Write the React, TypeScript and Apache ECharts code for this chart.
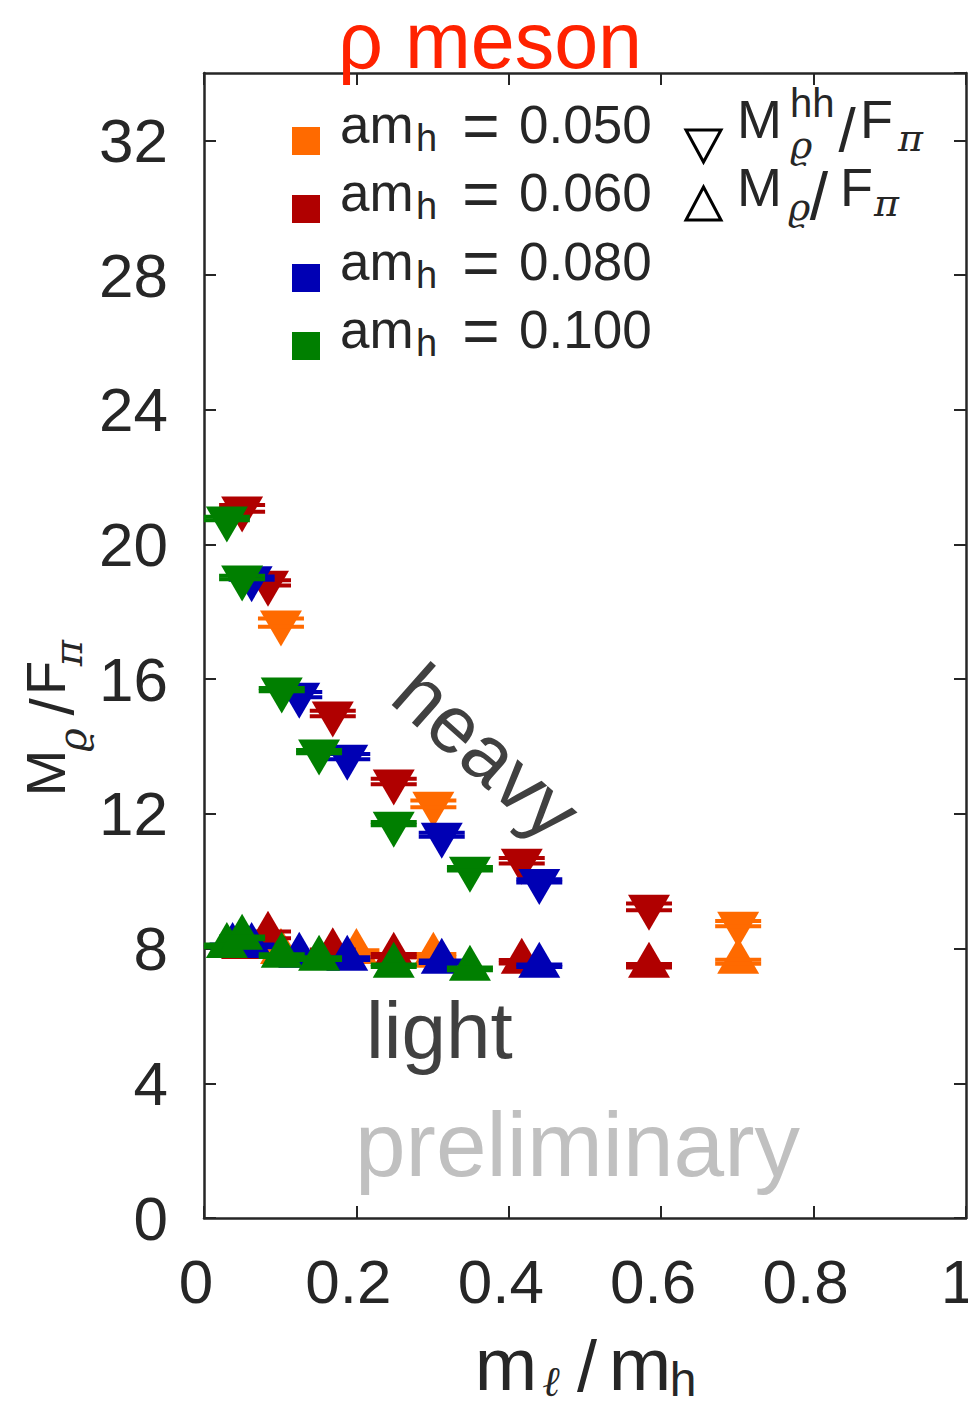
import React, { useEffect, useRef } from "react";
import * as echarts from "echarts";

// ---- data ----
const amH = ["0.050", "0.060", "0.080", "0.100"];
const colors = ["#ff6a00", "#b00000", "#0000b4", "#007f00"];

// am_h = 0.050 (orange)
const heavyX050 = [0.101, 0.301, 0.701];
const heavyY050 = [17.68, 12.3, 8.74];
const heavyE050 = [0.12, 0.1, 0.08];
const lightX050 = [0.101, 0.2, 0.301, 0.701];
const lightY050 = [7.9, 7.9, 7.79, 7.61];
const lightE050 = [0.05, 0.05, 0.05, 0.06];

// am_h = 0.060 (red)
const heavyX060 = [0.05, 0.084, 0.169, 0.249, 0.417, 0.584];
const heavyY060 = [21.07, 18.86, 14.98, 12.96, 10.61, 9.24];
const heavyE060 = [0.1, 0.08, 0.08, 0.08, 0.08, 0.1];
const lightX060 = [0.05, 0.084, 0.169, 0.249, 0.417, 0.584];
const lightY060 = [8.05, 8.41, 7.92, 7.79, 7.61, 7.49];
const lightE060 = [0.05, 0.1, 0.05, 0.05, 0.05, 0.05];

// am_h = 0.080 (blue)
const heavyX080 = [0.0625, 0.125, 0.188, 0.312, 0.44];
const heavyY080 = [19.0, 15.54, 13.7, 11.38, 10.01];
const heavyE080 = [0.05, 0.08, 0.08, 0.06, 0.05];
const lightX080 = [0.0375, 0.0625, 0.125, 0.188, 0.312, 0.44];
const lightY080 = [8.08, 8.08, 7.79, 7.7, 7.61, 7.49];
const lightE080 = [0.04, 0.04, 0.04, 0.04, 0.04, 0.04];

// am_h = 0.100 (green)
const heavyX100 = [0.03, 0.05, 0.102, 0.151, 0.249, 0.349];
const heavyY100 = [20.77, 19.02, 15.69, 13.85, 11.71, 10.37];
const heavyE100 = [0.05, 0.05, 0.05, 0.05, 0.05, 0.05];
const lightX100 = [0.03, 0.05, 0.102, 0.151, 0.249, 0.349];
const lightY100 = [8.08, 8.32, 7.79, 7.7, 7.49, 7.4];
const lightE100 = [0.04, 0.04, 0.04, 0.04, 0.04, 0.04];

const xTicks = [0, 0.2, 0.4, 0.6, 0.8, 1];
const yTicks = [0, 4, 8, 12, 16, 20, 24, 28, 32];

const seriesSets = [
  { hx: heavyX050, hy: heavyY050, he: heavyE050, lx: lightX050, ly: lightY050, le: lightE050 },
  { hx: heavyX060, hy: heavyY060, he: heavyE060, lx: lightX060, ly: lightY060, le: lightE060 },
  { hx: heavyX080, hy: heavyY080, he: heavyE080, lx: lightX080, ly: lightY080, le: lightE080 },
  { hx: heavyX100, hy: heavyY100, he: heavyE100, lx: lightX100, ly: lightY100, le: lightE100 },
];

const SANS = "'Liberation Sans', Arial, Helvetica, sans-serif";
const SERIF = "'DejaVu Serif', 'Liberation Serif', serif";
const INK = "#262626";

function T(text: string, x: number, y: number, size: number, opts: any = {}) {
  return {
    type: "text",
    x,
    y,
    rotation: opts.rotation || 0,
    z: 100,
    style: {
      text,
      fill: opts.fill || INK,
      font: `${opts.italic ? "italic " : ""}${size}px ${opts.family || SANS}`,
      align: opts.align || "left",
      verticalAlign: "middle",
      lineHeight: Math.round(size * (opts.lh || 1)),
    },
  };
}

function makeRender(color: string) {
  return (params: any, api: any) => {
    const x = api.value(0);
    const y = api.value(1);
    const e = api.value(2);
    const up = api.value(3) === 1;
    const c = api.coord([x, y]);
    const hi = api.coord([x, y + e]);
    const lo = api.coord([x, y - e]);
    const hw = 21;
    const pts = up
      ? [
          [c[0] - hw, c[1] + 12],
          [c[0] + hw, c[1] + 12],
          [c[0], c[1] - 24],
        ]
      : [
          [c[0] - hw, c[1] - 12],
          [c[0] + hw, c[1] - 12],
          [c[0], c[1] + 24],
        ];
    return {
      type: "group",
      children: [
        { type: "line", shape: { x1: c[0], y1: hi[1], x2: c[0], y2: lo[1] }, style: { stroke: color, lineWidth: 2 } },
        { type: "polygon", shape: { points: pts }, style: { fill: color } },
        { type: "rect", shape: { x: c[0] - 23, y: hi[1] - 2, width: 46, height: 4 }, style: { fill: color } },
        { type: "rect", shape: { x: c[0] - 23, y: lo[1] - 2, width: 46, height: 4 }, style: { fill: color } },
      ],
    };
  };
}

export default function App() {
  const ref = useRef<HTMLDivElement>(null);
  useEffect(() => {
    if (!ref.current) return;
    const chart = echarts.init(ref.current, null, { renderer: "svg" });

    const series: any[] = seriesSets.map((s, i) => {
      const data: number[][] = [];
      s.hx.forEach((x, k) => data.push([x, s.hy[k], s.he[k], 0]));
      s.lx.forEach((x, k) => data.push([x, s.ly[k], s.le[k], 1]));
      return {
        type: "custom",
        name: amH[i],
        xAxisIndex: 0,
        yAxisIndex: 0,
        renderItem: makeRender(colors[i]),
        data,
        clip: false,
        z: 10 + i,
      };
    });

    const axisLine = { show: true, onZero: false, lineStyle: { color: INK, width: 2.5 } };
    const axisTick = { show: true, inside: true, length: 12, lineStyle: { color: INK, width: 2 } };
    const fmtX = (v: number) => (v === 0 ? "0" : v === 1 ? "1" : v.toFixed(1));

    const graphic: any[] = [];
    // title
    graphic.push(T("ρ meson", 490, 40, 79, { fill: "#ff2200", align: "center", lh: 0.85 }));

    // legend (colors)
    const rowText = [124, 192, 261, 329];
    amH.forEach((v, i) => {
      const ty = rowText[i];
      graphic.push({
        type: "rect",
        z: 100,
        shape: { x: 292, y: ty + 3, width: 28, height: 28 },
        style: { fill: colors[i] },
      });
      graphic.push(T("am", 340, ty, 53));
      graphic.push(T("h", 416, ty + 14, 38));
      graphic.push(T("=", 481, ty + 2, 64, { align: "center" }));
      graphic.push(T(v, 519, ty, 53));
    });

    // legend (markers)
    graphic.push({
      type: "polygon",
      z: 100,
      shape: { points: [[686, 130], [721, 130], [703.5, 162]] },
      style: { fill: "none", stroke: "#000", lineWidth: 3 },
    });
    graphic.push({
      type: "polygon",
      z: 100,
      shape: { points: [[686, 220], [721, 220], [703.5, 187]] },
      style: { fill: "none", stroke: "#000", lineWidth: 3 },
    });
    graphic.push(T("M", 737, 119, 54));
    graphic.push(T("hh", 790, 103, 40));
    graphic.push(T("ϱ", 790, 145, 38, { italic: true, family: SERIF }));
    graphic.push(T("/", 847, 129, 62, { align: "center" }));
    graphic.push(T("F", 860, 119, 54));
    graphic.push(T("π", 898, 138, 38, { italic: true, family: SERIF }));

    graphic.push(T("M", 737, 187, 54));
    graphic.push(T("ϱ", 788, 207, 38, { italic: true, family: SERIF }));
    graphic.push(T("/", 819, 196, 66, { align: "center" }));
    graphic.push(T("F", 840, 187, 54));
    graphic.push(T("π", 874, 203, 38, { italic: true, family: SERIF }));

    // annotations
    graphic.push(T("heavy", 487, 752, 81, { fill: "#404040", align: "center", rotation: -0.725 }));
    graphic.push(T("light", 366, 1030, 80, { fill: "#404040" }));
    graphic.push(T("preliminary", 355, 1144, 91, { fill: "#c0c0c0" }));

    // y-axis name (rotated)
    const rot = Math.PI / 2;
    graphic.push(T("M", 45, 773, 56, { align: "center", rotation: rot }));
    graphic.push(T("ϱ", 72, 740, 40, { align: "center", rotation: rot, italic: true, family: SERIF }));
    graphic.push(T("/", 51, 707, 62, { align: "center", rotation: rot }));
    graphic.push(T("F", 45, 678, 56, { align: "center", rotation: rot }));
    graphic.push(T("π", 68, 653, 40, { align: "center", rotation: rot, italic: true, family: SERIF }));

    // x-axis name
    graphic.push(T("m", 506, 1364, 75, { align: "center", lh: 0.85 }));
    graphic.push(T("ℓ", 551, 1381, 42, { align: "center", italic: true, family: SERIF, lh: 0.8 }));
    graphic.push(T("/", 587, 1366, 72, { align: "center", lh: 0.85 }));
    graphic.push(T("m", 640, 1364, 75, { align: "center", lh: 0.85 }));
    graphic.push(T("h", 683, 1379, 48, { align: "center", lh: 0.85 }));

    chart.setOption({
      animation: false,
      backgroundColor: "#ffffff",
      grid: {
        left: 204,
        top: 73,
        width: 762,
        height: 1145,
        containLabel: false,
        outerBoundsMode: "none",
      },
      xAxis: [
        {
          type: "value",
          position: "bottom",
          min: xTicks[0],
          max: xTicks[xTicks.length - 1],
          interval: 0.2,
          axisLine,
          axisTick,
          splitLine: { show: false },
          axisLabel: {
            fontSize: 62,
            fontFamily: SANS,
            color: INK,
            margin: 32,
            padding: [0, 16, 0, 0],
            formatter: fmtX,
          },
        },
        {
          type: "value",
          position: "top",
          min: xTicks[0],
          max: xTicks[xTicks.length - 1],
          interval: 0.2,
          axisLine,
          axisTick,
          splitLine: { show: false },
          axisLabel: { show: false },
        },
      ],
      yAxis: [
        {
          type: "value",
          position: "left",
          min: yTicks[0],
          max: 34,
          interval: 4,
          axisLine,
          axisTick,
          splitLine: { show: false },
          axisLabel: {
            fontSize: 62,
            fontFamily: SANS,
            color: INK,
            margin: 36,
            showMaxLabel: false,
            formatter: (v: number) => (yTicks.indexOf(v) >= 0 ? String(v) : ""),
          },
        },
        {
          type: "value",
          position: "right",
          min: yTicks[0],
          max: 34,
          interval: 4,
          axisLine,
          axisTick,
          splitLine: { show: false },
          axisLabel: { show: false },
        },
      ],
      series,
      graphic,
    });
    return () => chart.dispose();
  }, []);
  return (
    <div
      ref={ref}
      style={{ position: "fixed", left: 0, top: 0, width: 968, height: 1408, background: "#fff" }}
    />
  );
}
